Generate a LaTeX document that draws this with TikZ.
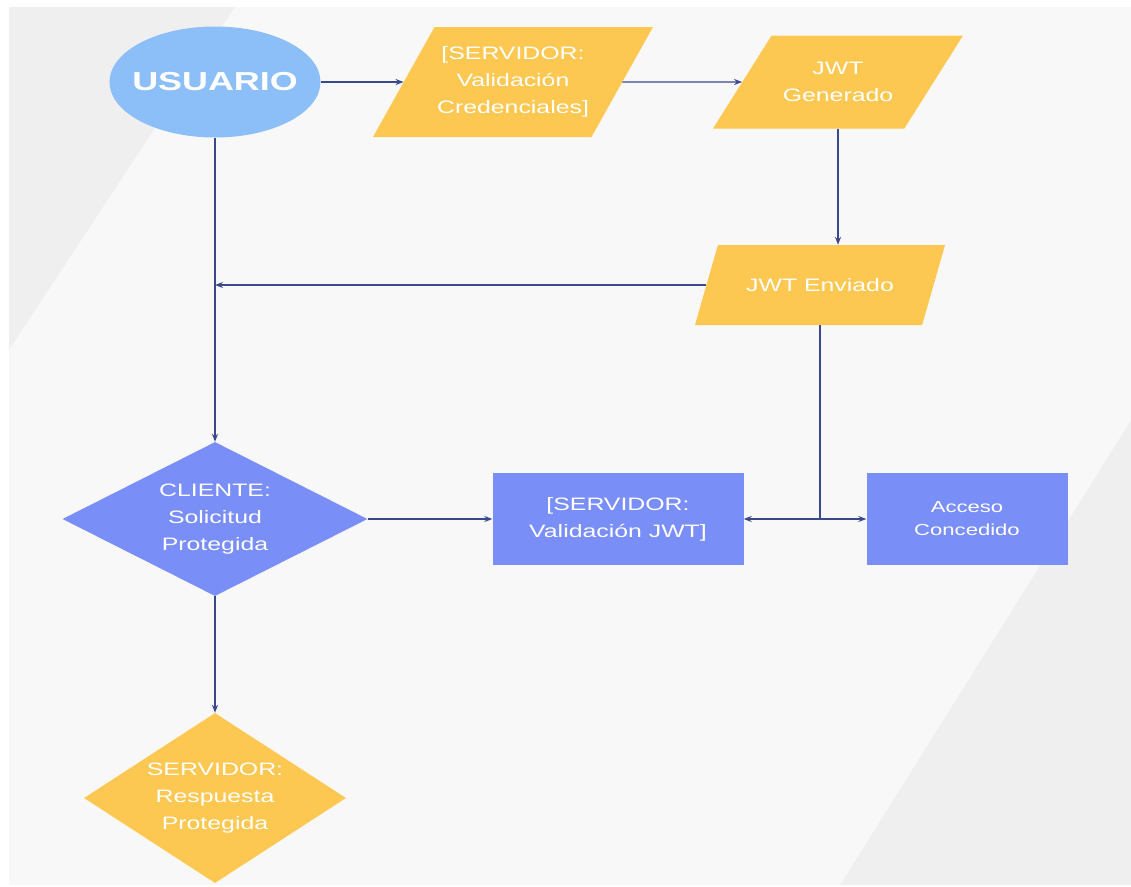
\documentclass[tikz,border=0pt]{standalone}
\usepackage{fontspec}
\setmainfont[FakeStretch=1.38]{Liberation Sans}
\usetikzlibrary{shapes.geometric,arrows.meta}
\definecolor{amarillo}{RGB}{252,200,82}
\definecolor{azul}{RGB}{122,142,248}
\definecolor{celeste}{RGB}{140,190,248}
\definecolor{linea}{RGB}{58,72,140}
\definecolor{fondo}{RGB}{239,239,239}
\definecolor{fondoclaro}{RGB}{248,248,248}
\tikzset{
	texto/.style={text=white, font=\fontsize{18}{27}\selectfont, align=center, inner sep=0pt},
	datos/.style={texto, trapezium, trapezium stretches body, fill=amarillo},
	caja/.style={texto, rectangle, fill=azul, minimum height=92pt},
	decision/.style={texto, diamond},
	flecha/.style={->, draw=linea, line width=1.3pt},
}
\begin{document}
\begin{tikzpicture}[x=1pt, y=-1pt, >={Stealth[length=8pt,width=6pt]}, line join=round]
	\useasboundingbox (0,0) rectangle (1131,886);
	% fondo
	\fill[white] (0,0) rectangle (1131,886);
	\fill[fondo] (9,7) rectangle (1131,885);
	\fill[fondoclaro] (235,7) -- (1131,7) -- (1131,420) -- (840,885) -- (9,885) -- (9,350) -- cycle;
	% nodos
	\node[ellipse, fill=celeste, minimum width=211pt, minimum height=111pt, inner sep=0pt] (user) at (215,82) {};
	\node[text=white, font=\bfseries\fontsize{26}{30}\selectfont, inner sep=0pt] (usertxt) at (user) {USUARIO};
	\node[datos, trapezium left angle=49, trapezium right angle=131, minimum width=280pt, minimum height=110pt] (cred) at (513,82) {[SERVIDOR:\\Validación\\Credenciales]};
	\node[datos, trapezium left angle=34, trapezium right angle=146, minimum width=250pt, minimum height=93pt] (gen) at (838,82) {JWT\\Generado};
	\node[datos, trapezium left angle=30, trapezium right angle=150, minimum width=250pt, minimum height=80pt] (sent) at (820,285) {JWT Enviado};
	\node[decision, fill=azul, aspect=2, minimum width=305pt, minimum height=154pt] (client) at (215,519) {CLIENTE:\\Solicitud\\Protegida};
	\node[caja, minimum width=251pt] (valjwt) at (618,519) {[SERVIDOR:\\Validación JWT]};
	\node[caja, minimum width=201pt, font=\fontsize{16}{23}\selectfont] (access) at (967,519) {Acceso\\Concedido};
	\node[decision, fill=amarillo, aspect=1.54, minimum width=262pt, minimum height=170pt] (resp) at (215,798) {SERVIDOR:\\Respuesta\\Protegida};
	% conectores
	\draw[flecha] (user) -- (cred);
	\draw[flecha] (cred) -- (gen);
	\draw[flecha] (gen.south) -- (gen.south |- sent.north);
	\draw[flecha] (sent.west) -- (user |- sent.west);
	\draw[flecha] (user) -- (client);
	\draw[flecha] (client) -- (valjwt);
	\coordinate (cruce) at (sent.south |- valjwt.east);
	\draw[draw=linea, line width=1.3pt] (sent.south) -- (cruce);
	\draw[flecha] (cruce) -- (valjwt);
	\draw[flecha] (cruce) -- (access);
	\draw[flecha] (client) -- (resp);
\end{tikzpicture}
\end{document}
